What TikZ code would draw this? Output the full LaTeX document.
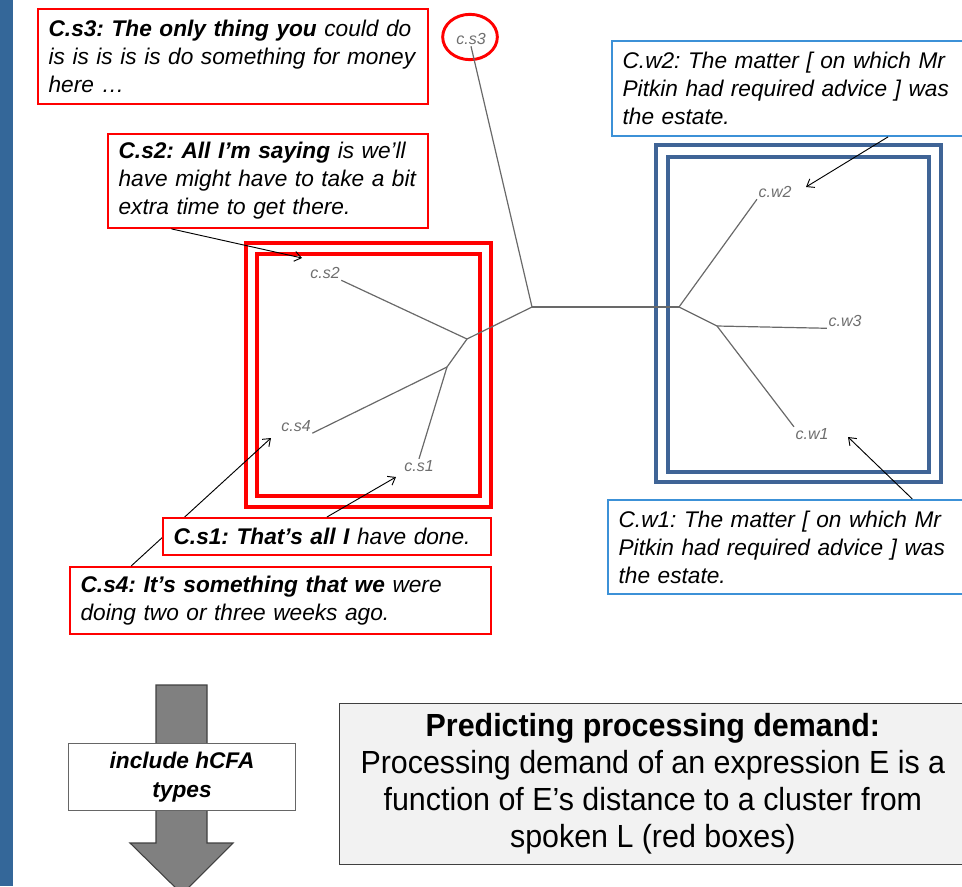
\documentclass[tikz,border=0pt]{standalone}
\usepackage{fontspec}
\setmainfont{Liberation Sans}
\newfontfamily\narrowfont{Liberation Sans}[FakeStretch=0.95]
\usetikzlibrary{arrows.meta,calc}

\definecolor{sideblue}{RGB}{52,103,153}
\definecolor{clusterblue}{RGB}{63,100,150}
\definecolor{calloutblue}{RGB}{60,145,215}
\definecolor{treegrey}{RGB}{105,105,105}
\definecolor{labelgrey}{RGB}{110,110,110}
\definecolor{panelgrey}{RGB}{242,242,242}
\definecolor{arrowgrey}{RGB}{128,128,128}

\tikzset{
  redcallout/.style={draw=red, line width=1.4pt, fill=white, anchor=north west, align=left, inner xsep=8pt, inner ysep=2pt, font=\fontsize{17}{21}\selectfont\itshape},
  bluecallout/.style={redcallout, draw=calloutblue},
  leaf/.style={text=labelgrey, font=\fontsize{12}{13}\selectfont\itshape, inner sep=1pt},
  branch/.style={treegrey, line width=0.9pt},
  pointer/.style={-{Straight Barb[length=5pt,width=7.5pt]}, line width=0.7pt},
  redbox/.style={draw=red, line width=2.6pt},
  bluebox/.style={draw=clusterblue, line width=2.6pt}
}

\begin{document}
\frenchspacing
\begin{tikzpicture}[x=0.75pt,y=-0.75pt]
\useasboundingbox (0,0) rectangle (962,886);
\fill[sideblue] (0,0) rectangle (13,886);

\draw[redbox] (246,243) rectangle (491,507);
\draw[redbox] (257,254) rectangle (480,496);
\draw[bluebox] (656,145) rectangle (941,482);
\draw[bluebox] (668,157) rectangle (929,472);

\node[leaf] (cs3) at (471,39) {c.s3};
\draw[red, line width=2.2pt] (470,37) ellipse [x radius=20.5pt, y radius=17pt];
\node[leaf] (cs2) at (325,273) {c.s2};
\node[leaf] (cs4) at (296,426) {c.s4};
\node[leaf] (cs1) at (419,466) {c.s1};
\node[leaf] (cw2) at (775,192) {c.w2};
\node[leaf] (cw3) at (845,321) {c.w3};
\node[leaf] (cw1) at (812,434) {c.w1};
\coordinate (root) at (532,307);
\coordinate (sj1) at (467,339);
\coordinate (sj2) at (447,367);
\coordinate (wj1) at (679,307);
\coordinate (wj2) at (717,326);
\draw[branch] (cs3.south) -- (root);
\draw[branch] (root) -- (wj1);
\draw[branch] (root) -- (sj1);
\draw[branch] (sj1) -- (sj2);
\draw[branch] (sj1) -- (cs2.south east);
\draw[branch] (sj2) -- (cs4.south east);
\draw[branch] (sj2) -- (cs1.north);
\draw[branch] (wj1) -- (cw2.south west);
\draw[branch] (wj1) -- (wj2);
\draw[branch] (wj2) -- (cw3.south west);
\draw[branch] (wj2) -- (cw1.north west);

\coordinate (cs2tip) at (302,258);
\coordinate (cs1tip) at (396,477);
\coordinate (cs4tip) at (271,438);
\coordinate (cw2tip) at (806,187);
\coordinate (cw1tip) at (848,437);

\node[redcallout, minimum width=292.5pt, minimum height=71.25pt, text width=276.5pt] (cs3box) at (37,8) {\textbf{C.s3: The only thing you} could do\\is is is is is do something for money\\here \dots};
\node[redcallout, minimum width=240pt, minimum height=70.5pt, text width=224pt] (cs2box) at (107,133) {\textbf{C.s2: All I’m saying} is we’ll\\have might have to take a bit\\extra time to get there.};
\draw[pointer] ($(cs2box.south west)!0.2!(cs2box.south east)$) -- (cs2tip);
\node[redcallout, minimum width=315.75pt, minimum height=50.25pt, text width=299.75pt] (cs4box) at (69,566) {\textbf{C.s4: It’s something that we} were\\doing two or three weeks ago.};
\draw[pointer] ($(cs4box.north west)!0.147!(cs4box.north east)$) -- (cs4tip);
\node[redcallout, minimum width=246pt, minimum height=27.75pt, text width=230pt] (cs1box) at (162,517) {\textbf{C.s1: That’s all I} have done.};
\draw[pointer] (cs1box.north) -- (cs1tip);
\node[bluecallout, minimum width=265pt, minimum height=71.25pt, text width=249pt] (cw2box) at (611,40) {C.w2: The matter [ on which Mr\\Pitkin had required advice ] was\\the estate.};
\draw[pointer] ($(cw2box.south west)!0.78!(cw2box.south east)$) -- (cw2tip);
\node[bluecallout, minimum width=268pt, minimum height=70.5pt, text width=252pt] (cw1box) at (607,499) {C.w1: The matter [ on which Mr\\Pitkin had required advice ] was\\the estate.};
\draw[pointer] ($(cw1box.north west)!0.85!(cw1box.north east)$) -- (cw1tip);

\draw[fill=arrowgrey, draw=black!75, line width=0.8pt] (156,685) -- (207,685) -- (207,843) -- (233,843) -- (182,894) -- (130,843) -- (156,843) -- cycle;
\node[draw=black!60, fill=white, line width=0.8pt, anchor=north west, minimum width=170.25pt, minimum height=50.25pt, align=center, font=\fontsize{17}{21.75}\selectfont\bfseries\itshape] (hcfa) at (68,743) {include hCFA\\types};

\node[draw=black!75, fill=panelgrey, line width=0.8pt, anchor=north west, minimum width=470pt, minimum height=120.75pt, align=center, font=\narrowfont\fontsize{24}{27.75}\selectfont] (predict) at (339,703) {\textbf{Predicting processing demand:}\\Processing demand of an expression E is a\\function of E’s distance to a cluster from\\spoken L (red boxes)};
\end{tikzpicture}
\end{document}
